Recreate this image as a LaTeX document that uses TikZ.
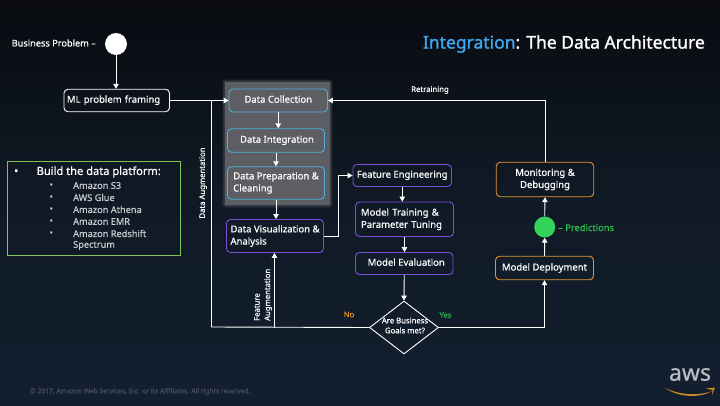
\documentclass[tikz,border=0pt]{standalone}
\usepackage{fontspec}
\setmainfont{Noto Sans}
\newfontfamily\medf[FakeBold=0.6]{Noto Sans}
\newfontfamily\ttlf[FakeBold=1.4]{Noto Sans}
\usetikzlibrary{arrows.meta,shapes.geometric,calc}
\definecolor{cblue}{HTML}{4FB0DC}
\definecolor{cpurple}{HTML}{7B4FD6}
\definecolor{corange}{HTML}{E2962E}
\definecolor{cgreenbox}{HTML}{7CC653}
\definecolor{cdot}{HTML}{33D45C}
\definecolor{cpanel}{HTML}{5C5E64}
\definecolor{ctitle}{HTML}{3FA7EE}
\definecolor{csub}{HTML}{C9CBCF}
\definecolor{cfoot}{HTML}{454C59}
\definecolor{cno}{HTML}{DB8E1C}
\definecolor{cyes}{HTML}{27B04C}
\definecolor{caws}{HTML}{B9BCC2}
\definecolor{csmile}{HTML}{C98A22}
\tikzset{
  x=1pt,y=-1pt,
  bx/.style={draw,rounded corners=4pt,line width=0.9pt,text=white,align=left,inner sep=0pt,
    font=\medf\fontsize{9.5}{12.2}\selectfont},
  blueb/.style={bx,draw=cblue,fill=cpanel},
  purpb/.style={bx,draw=cpurple},
  orngb/.style={bx,draw=corange},
  oneline/.style={text height=8.4pt,text depth=4pt},
  conn/.style={draw=white,line width=0.9pt},
  arr/.style={conn,-{Triangle[length=5pt,width=5.5pt]}},
  lab/.style={text=white,inner sep=0pt,font=\medf\fontsize{7.7}{10.5}\selectfont},
  bigb/.style={text=white,inner sep=0pt,anchor=west,font=\medf\fontsize{11.1}{12}\selectfont},
  subt/.style={text=csub,inner sep=0pt,anchor=west,font=\medf\fontsize{9.2}{11.5}\selectfont},
}
\begin{document}
\begin{tikzpicture}
\useasboundingbox (0,0) rectangle (720,405);
% background
\shade[top color={rgb,255:red,9;green,11;blue,16},bottom color={rgb,255:red,16;green,26;blue,38}] (0,0) rectangle (720,200.5);
\shade[top color={rgb,255:red,16;green,26;blue,38},bottom color={rgb,255:red,19;green,31;blue,47}] (0,200) rectangle (720,405);
% grey panel with soft edge
\foreach \g in {3,2,1}{
  \fill[cpanel,opacity=0.2,rounded corners=\g pt] ({225-\g*0.9},{82-\g*0.9}) rectangle ({330+\g*0.9},{205+\g*0.9});
}
\fill[cpanel] (225,82) rectangle (330,205);
% start
\node[circle,fill=white,inner sep=0pt,minimum size=22pt] (start) at (116,44) {};
\node[lab,anchor=west,font=\medf\fontsize{9.2}{10}\selectfont] (bp) at (11.5,43) {Business Problem –};
% boxes
\node[bx,oneline,draw=white,minimum height=22.5pt,text width=99.5pt,inner xsep=3pt] (ml) at (116.75,100.5) {ML problem framing};
\node[blueb,oneline,minimum width=98.5pt,minimum height=23pt,align=center] (dc) at (278.25,100.5) {Data Collection};
\node[blueb,oneline,minimum width=97pt,minimum height=23.5pt,align=center] (di) at (276,140.5) {\hspace{2pt}Data Integration};
\node[blueb,minimum width=97pt,minimum height=32.5pt] (dp) at (276,183) {Data Preparation \&\\Cleaning};
\node[purpb,minimum width=97pt,minimum height=33pt] (dv) at (275,236) {Data Visualization \&\\Analysis};
\node[purpb,oneline,minimum width=98.5pt,minimum height=22pt,align=center] (fe) at (402.25,175.5) {Feature Engineering};
\node[purpb,minimum width=98pt,minimum height=34.5pt,text width=87pt,inner xsep=0pt] (mt) at (404.5,219.25) {Model Training \&\\Parameter Tuning};
\node[purpb,oneline,minimum width=97.5pt,minimum height=22pt,align=center] (me) at (404.25,263.5) {\hspace{4pt}Model Evaluation};
\node[diamond,draw=white,line width=0.9pt,minimum width=69pt,minimum height=53pt,inner sep=0pt,aspect=1.3] (goal) at (404,327.5) {};
\node[text=white,inner sep=0pt,align=center,font=\medf\fontsize{7.7}{10}\selectfont] (goaltext) at (405,325.5) {Are Business\\Goals met?};
\node[orngb,minimum width=98pt,minimum height=23.5pt,align=center] (dep) at (544.5,268) {Model Deployment};
\node[circle,fill=cdot,inner sep=0pt,minimum size=21pt] (pred) at (544.7,227) {};
\node[orngb,minimum width=97.5pt,minimum height=34.5pt,align=center] (mon) at (545,179.5) {Monitoring \&\\Debugging};
% connectors
\draw[arr] (start) -- (start |- ml.north);
\draw[arr] (ml.east) -- (dc.west);
\draw[arr] (dc.south) -- (dc.south |- di.north);
\draw[arr] (di.south) -- (dp.north);
\draw[arr] (dp.south) -- (dp.south |- dv.north);
\draw[arr] (dv.east) -| ($(dv.east)!0.52!(fe.west)$) |- (fe.west);
\draw[arr] (fe.south) -- (fe.south |- mt.north);
\draw[arr] (mt.south) -- (mt.south |- me.north);
\draw[arr] (me.south) -- (goal.north);
\draw[arr] (goal.east) -| (dep.south);
\draw[arr] (dep.north) -- (pred.south);
\draw[arr] (pred.north) -- (mon.south);
\draw[arr] (mon.north) |- (dc.east);
\coordinate (augturn) at (211.5,327);
\coordinate (augtop) at (211.5,100.5);
\draw[conn] (goal.west) -- (augturn) -- (augtop);
\coordinate (featbase) at (274.5,327.5);
\draw[arr] (featbase) -- (featbase |- dv.south);
% labels
\node[lab] (retr) at (430,90) {Retraining};
\node[lab,rotate=90] (daug) at (203,183) {Data Augmentation};
\node[lab,rotate=90,align=left,anchor=west] (faug) at (263,321) {Feature\\Augmentation};
\node[lab,text=cno] (no) at (349,314.5) {No};
\node[lab,text=cyes] (yes) at (445.5,315) {Yes};
\node[text=cdot!90!black,inner sep=0pt,anchor=west,font=\medf\fontsize{9.3}{10}\selectfont] (predt) at (558,227.5) {– Predictions};
% title
\node[inner sep=0pt,anchor=east,text=white,font=\ttlf\fontsize{17.5}{20}\selectfont] (title) at (705,44) {\textcolor{ctitle}{Integration}: The Data Architecture};
% platform box
\node[draw=cgreenbox,line width=0.9pt,minimum width=173pt,minimum height=94.5pt,inner sep=0pt] (plat) at (94,208.5) {};
\node[bigb] (hb) at (14,172) {•};
\node[bigb] (h) at (36.5,172) {Build the data platform:};
\foreach \n/\y/\t in {a/185.5/Amazon S3,b/197.5/AWS Glue,c/209.5/Amazon Athena,d/221.5/Amazon EMR,e/233.5/Amazon Redshift}{
  \node[subt,font=\medf\fontsize{8.5}{8}\selectfont] (bul\n) at (49.5,\y) {•};
  \node[subt] (sub\n) at (73,\y) {\t};
}
\node[subt] (subf) at (73,245.5) {Spectrum};
% footer
\node[inner sep=0pt,anchor=west,text=cfoot,font=\medf\fontsize{6.7}{7}\selectfont] (copy) at (30,391.5) {© 2017, Amazon Web Services, Inc. or its Affiliates. All rights reserved.};
% aws logo
\node[inner sep=0pt,text=caws,font=\medf\fontsize{23}{23}\selectfont] (aws) at (690,374.5) {aws};
\fill[csmile] (665,388) .. controls (680,398) and (700,398) .. (712,391) .. controls (700,395.5) and (682,396) .. (665,388) -- cycle;
\fill[csmile] (706,388.5) -- (715,387.5) -- (712,395) -- (712.5,390) -- cycle;
\end{tikzpicture}
\end{document}
